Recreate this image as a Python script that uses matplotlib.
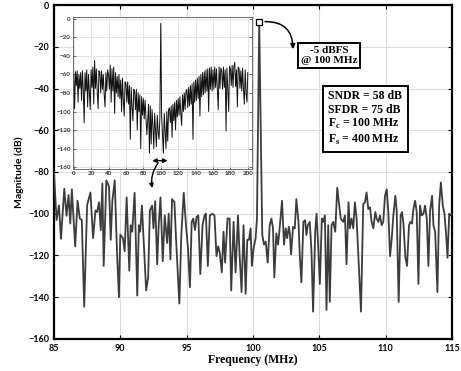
import numpy as np
import matplotlib
matplotlib.use("Agg")
import matplotlib.pyplot as plt

# zoomed output spectrum around the carrier
freq = [85.0, 85.2, 85.38, 85.53, 85.78, 85.95, 86.1, 86.23, 86.35, 86.6,
        86.78, 86.95, 87.1, 87.28, 87.5, 87.75, 87.95, 88.13, 88.25, 88.4,
        88.53, 88.65, 88.75, 88.95, 89.15, 89.28, 89.4, 89.58, 89.75, 89.9,
        90.0, 90.2, 90.33, 90.48, 90.68, 90.78, 90.9, 91.08, 91.28, 91.4,
        91.5, 91.63, 91.78, 91.95, 92.1, 92.23, 92.4, 92.5, 92.63, 92.78,
        92.9, 93.03, 93.2, 93.35, 93.53, 93.65, 93.78, 93.9, 94.08, 94.2,
        94.45, 94.6, 94.78, 94.95, 95.1, 95.25, 95.38, 95.5, 95.63, 95.75,
        95.88, 96.03, 96.2, 96.35, 96.45, 96.6, 96.75, 96.95, 97.1, 97.25,
        97.38, 97.5, 97.65, 97.78, 97.9, 98.08, 98.24, 98.36, 98.54, 98.69,
        98.87, 98.99, 99.14, 99.29, 99.45, 99.57, 99.7, 99.82, 99.92, 100.05,
        100.2, 100.3, 100.47, 100.7, 100.83, 100.96, 101.11, 101.26, 101.39, 101.51,
        101.61, 101.76, 101.89, 102.02, 102.19, 102.34, 102.47, 102.57, 102.7, 102.77,
        102.87, 103.02, 103.15, 103.27, 103.43, 103.53, 103.65, 103.8, 103.93, 104.03,
        104.13, 104.28, 104.41, 104.53, 104.69, 104.79, 104.91, 105.04, 105.19, 105.29,
        105.42, 105.54, 105.67, 105.79, 105.92, 106.05, 106.2, 106.35, 106.5, 106.62,
        106.8, 106.93, 107.05, 107.2, 107.3, 107.43, 107.56, 107.68, 107.81, 107.96,
        108.14, 108.31, 108.44, 108.56, 108.69, 108.82, 108.94, 109.07, 109.22, 109.32,
        109.45, 109.57, 109.7, 109.82, 109.95, 110.08, 110.2, 110.33, 110.45, 110.58,
        110.73, 110.83, 110.98, 111.13, 111.23, 111.34, 111.49, 111.61, 111.76, 111.86,
        111.99, 112.09, 112.22, 112.34, 112.47, 112.59, 112.72, 112.85, 112.97, 113.1,
        113.22, 113.35, 113.5, 113.6, 113.73, 113.9, 114.03, 114.16, 114.31, 114.43,
        114.56, 114.66, 114.79, 114.86, 115.0]
mag = [-80, -103, -96, -112, -88, -101, -91, -104.7, -88.3, -115.6,
       -93.8, -102.3, -103, -144.5, -96, -89.8, -111.7, -98.4, -99.2, -94.5,
       -107.8, -85.5, -125, -84, -87, -112.5, -94, -84, -118, -140,
       -110, -111.7, -118, -92.2, -127.3, -105.5, -108.6, -90, -139.2, -105.5,
       -108.6, -96.1, -114.8, -136.7, -130.5, -98.4, -96.1, -107, -94, -124.2,
       -104.7, -92.2, -122.7, -100.8, -114, -100, -121.9, -93, -94.5, -111.7,
       -143, -110, -90, -105.5, -116.4, -135.2, -104, -102.3, -107.8, -101.5,
       -100.8, -128.9, -105.5, -100.8, -100, -125, -100.8, -100, -100.8, -120.3,
       -115.6, -118.8, -128.1, -108.6, -123.4, -102.3, -102.3, -136.7, -103.9, -128.1,
       -100.8, -119.5, -137.5, -105.5, -138.3, -112.5, -112.5, -107, -125, -116.4,
       -111.7, -102.3, -8, -110, -114.8, -113.3, -123.4, -105.5, -102.3, -107,
       -130.5, -109.4, -114.8, -106.3, -93.8, -114.8, -107, -111.7, -106.3, -108.6,
       -119.5, -106.3, -107, -93, -103.9, -120.3, -132.8, -103.9, -103.1, -110.2,
       -105.5, -103.9, -118, -146.9, -108.6, -100, -114.8, -133.6, -102.3, -103.9,
       -100.8, -146.1, -105.5, -142.2, -105.5, -103.9, -108.6, -87.5, -96.1, -102.3,
       -103.9, -100.8, -124.2, -94.5, -107, -102.3, -107, -94.5, -102.3, -122.7,
       -146.9, -95.3, -94.5, -89.8, -97.7, -96.9, -103.9, -107, -99.2, -102.3,
       -103.9, -100.8, -105.5, -103.9, -91.4, -88.3, -99.2, -120.3, -112.5, -100.8,
       -91.4, -98.4, -142.2, -100.8, -99.2, -104.7, -121.1, -125, -105.5, -103.9,
       -104.7, -97.7, -93.8, -99.2, -133.6, -96.1, -100.8, -100, -96.1, -102.3,
       -125, -98.4, -91.4, -105.5, -108.6, -137.5, -96.1, -85, -96.1, -100,
       -110.2, -121.1, -100, -100.8, -100]

# full band spectrum for the inset, 1 MHz steps from 0 to 200 MHz
full_freq = list(range(0, 201))
full_mag = [-60, -97, -57, -72, -56, -90, -60, -75, -58, -88,
            -56, -76, -112, -58, -78, -55, -95, -60, -80, -98,
            -55, -74, -52, -92, -45, -75, -54, -78, -97, -56,
            -58, -80, -56, -76, -60, -82, -95, -58, -78, -55,
            -60, -76, -50, -90, -54, -78, -52, -102, -58, -80,
            -62, -84, -60, -86, -66, -100, -64, -88, -105, -68,
            -70, -90, -68, -92, -72, -130, -74, -94, -110, -76,
            -78, -98, -76, -120, -80, -100, -82, -140, -84, -104,
            -86, -108, -88, -106, -125, -110, -92, -145, -94, -135,
            -98, -116, -140, -102, -120, -138, -104, -122, -130, -106,
            -5,
            -104, -124, -145, -102, -122, -140, -100, -132, -98,
            -96, -112, -94, -128, -92, -110, -90, -120, -88, -106,
            -86, -104, -84, -102, -115, -82, -100, -80, -98, -78,
            -76, -96, -74, -94, -72, -92, -70, -130, -68, -90,
            -66, -88, -64, -86, -62, -105, -60, -84, -58, -82,
            -57, -80, -55, -78, -54, -100, -53, -76, -52, -78,
            -55, -76, -52, -74, -54, -77, -98, -52, -75, -53,
            -56, -76, -52, -74, -55, -121, -53, -75, -100, -51,
            -54, -72, -50, -74, -52, -47, -73, -55, -95, -52,
            -54, -75, -56, -78, -53, -76, -92, -55, -80, -90,
            -58]

x_ticks = [85, 90, 95, 100, 105, 110, 115]
y_ticks = [0, -20, -40, -60, -80, -100, -120, -140, -160]
inset_xticks = list(range(0, 201, 20))
inset_yticks = list(range(0, -161, -20))

serif = "Liberation Serif"
sans = "Lato"

fig = plt.figure(figsize=(4.61, 3.71), dpi=100)
ax = fig.add_axes([0.117, 0.0863, 0.8635, 0.9002])
ax.plot(freq, mag, color="#3c3c3c", lw=1.3, zorder=3)
ax.plot([100.47], [-8], marker="s", ms=4.5, mfc="white", mec="black", mew=0.9, zorder=5)
ax.set_xlim(85, 115)
ax.set_ylim(-160, 0)
ax.set_xticks(x_ticks)
ax.set_yticks(y_ticks)
ax.grid(True, color="#dcdcdc", lw=0.8)
ax.tick_params(direction="in", length=3, top=True, right=True, width=0.8)
for lab in ax.get_xticklabels() + ax.get_yticklabels():
    lab.set_fontfamily(sans)
    lab.set_fontweight("bold")
    lab.set_fontsize(6.5)
for s in ax.spines.values():
    s.set_linewidth(1.6)
ax.set_xlabel("Frequency (MHz)", fontfamily=serif, fontweight="bold", fontsize=8.5, labelpad=1)
ax.set_ylabel("Magnitude (dB)", fontfamily=sans, fontweight="bold", fontsize=7.5, labelpad=3)

# annotations
ax.text(105.72, -24.2, "-5 dBFS\n@ 100 MHz", ha="center", va="center",
        fontfamily=serif, fontweight="bold", fontsize=8, zorder=6,
        bbox=dict(boxstyle="square,pad=0.25", fc="white", ec="black", lw=1.4))
ax.annotate("", xy=(103.0, -22.5), xytext=(100.7, -8),
            arrowprops=dict(arrowstyle="-|>", connectionstyle="arc3,rad=-0.55",
                            lw=1.1, color="black", mutation_scale=7), zorder=6)
ax.text(108.47, -54.5, "SNDR = 58 dB\nSFDR = 75 dB\nF$_\\mathregular{c}$ = 100 MHz\nF$_\\mathregular{s}$ = 400 MHz",
        ha="center", va="center", multialignment="left", linespacing=1.15,
        fontfamily=serif, fontweight="bold", fontsize=8.5, zorder=6,
        bbox=dict(boxstyle="square,pad=0.45", fc="white", ec="black", lw=1.4))

# inset with the whole band
ax_in = fig.add_axes([0.158, 0.5445, 0.389, 0.4097])
ax_in.plot(full_freq, full_mag, color="#111111", lw=0.7)
ax_in.set_xlim(-1, 205)
ax_in.set_ylim(-162, 2)
ax_in.set_xticks(inset_xticks)
ax_in.set_yticks(inset_yticks)
ax_in.grid(True, color="#e0e0e0", lw=0.6)
ax_in.tick_params(direction="in", length=2, right=True, width=0.5, pad=1.5, colors="#333333")
for lab in ax_in.get_xticklabels() + ax_in.get_yticklabels():
    lab.set_fontfamily(sans)
    lab.set_fontweight("bold")
    lab.set_fontsize(4.5)
for s in ax_in.spines.values():
    s.set_linewidth(0.6)
    s.set_color("#555555")

ax_in.annotate("", xy=(87, -153), xytext=(111, -153),
               arrowprops=dict(arrowstyle="<|-|>", lw=1.0, color="black", mutation_scale=6))
arr = ax_in.annotate("", xy=(92.45, -89), xycoords=ax.transData,
                     xytext=(99, -153), textcoords=ax_in.transData,
                     arrowprops=dict(arrowstyle="-|>", connectionstyle="arc3,rad=0.25",
                                     lw=1.0, color="black", mutation_scale=6),
                     annotation_clip=False)
arr.arrow_patch.set_clip_on(False)

fig.savefig("out.png", dpi=100)
